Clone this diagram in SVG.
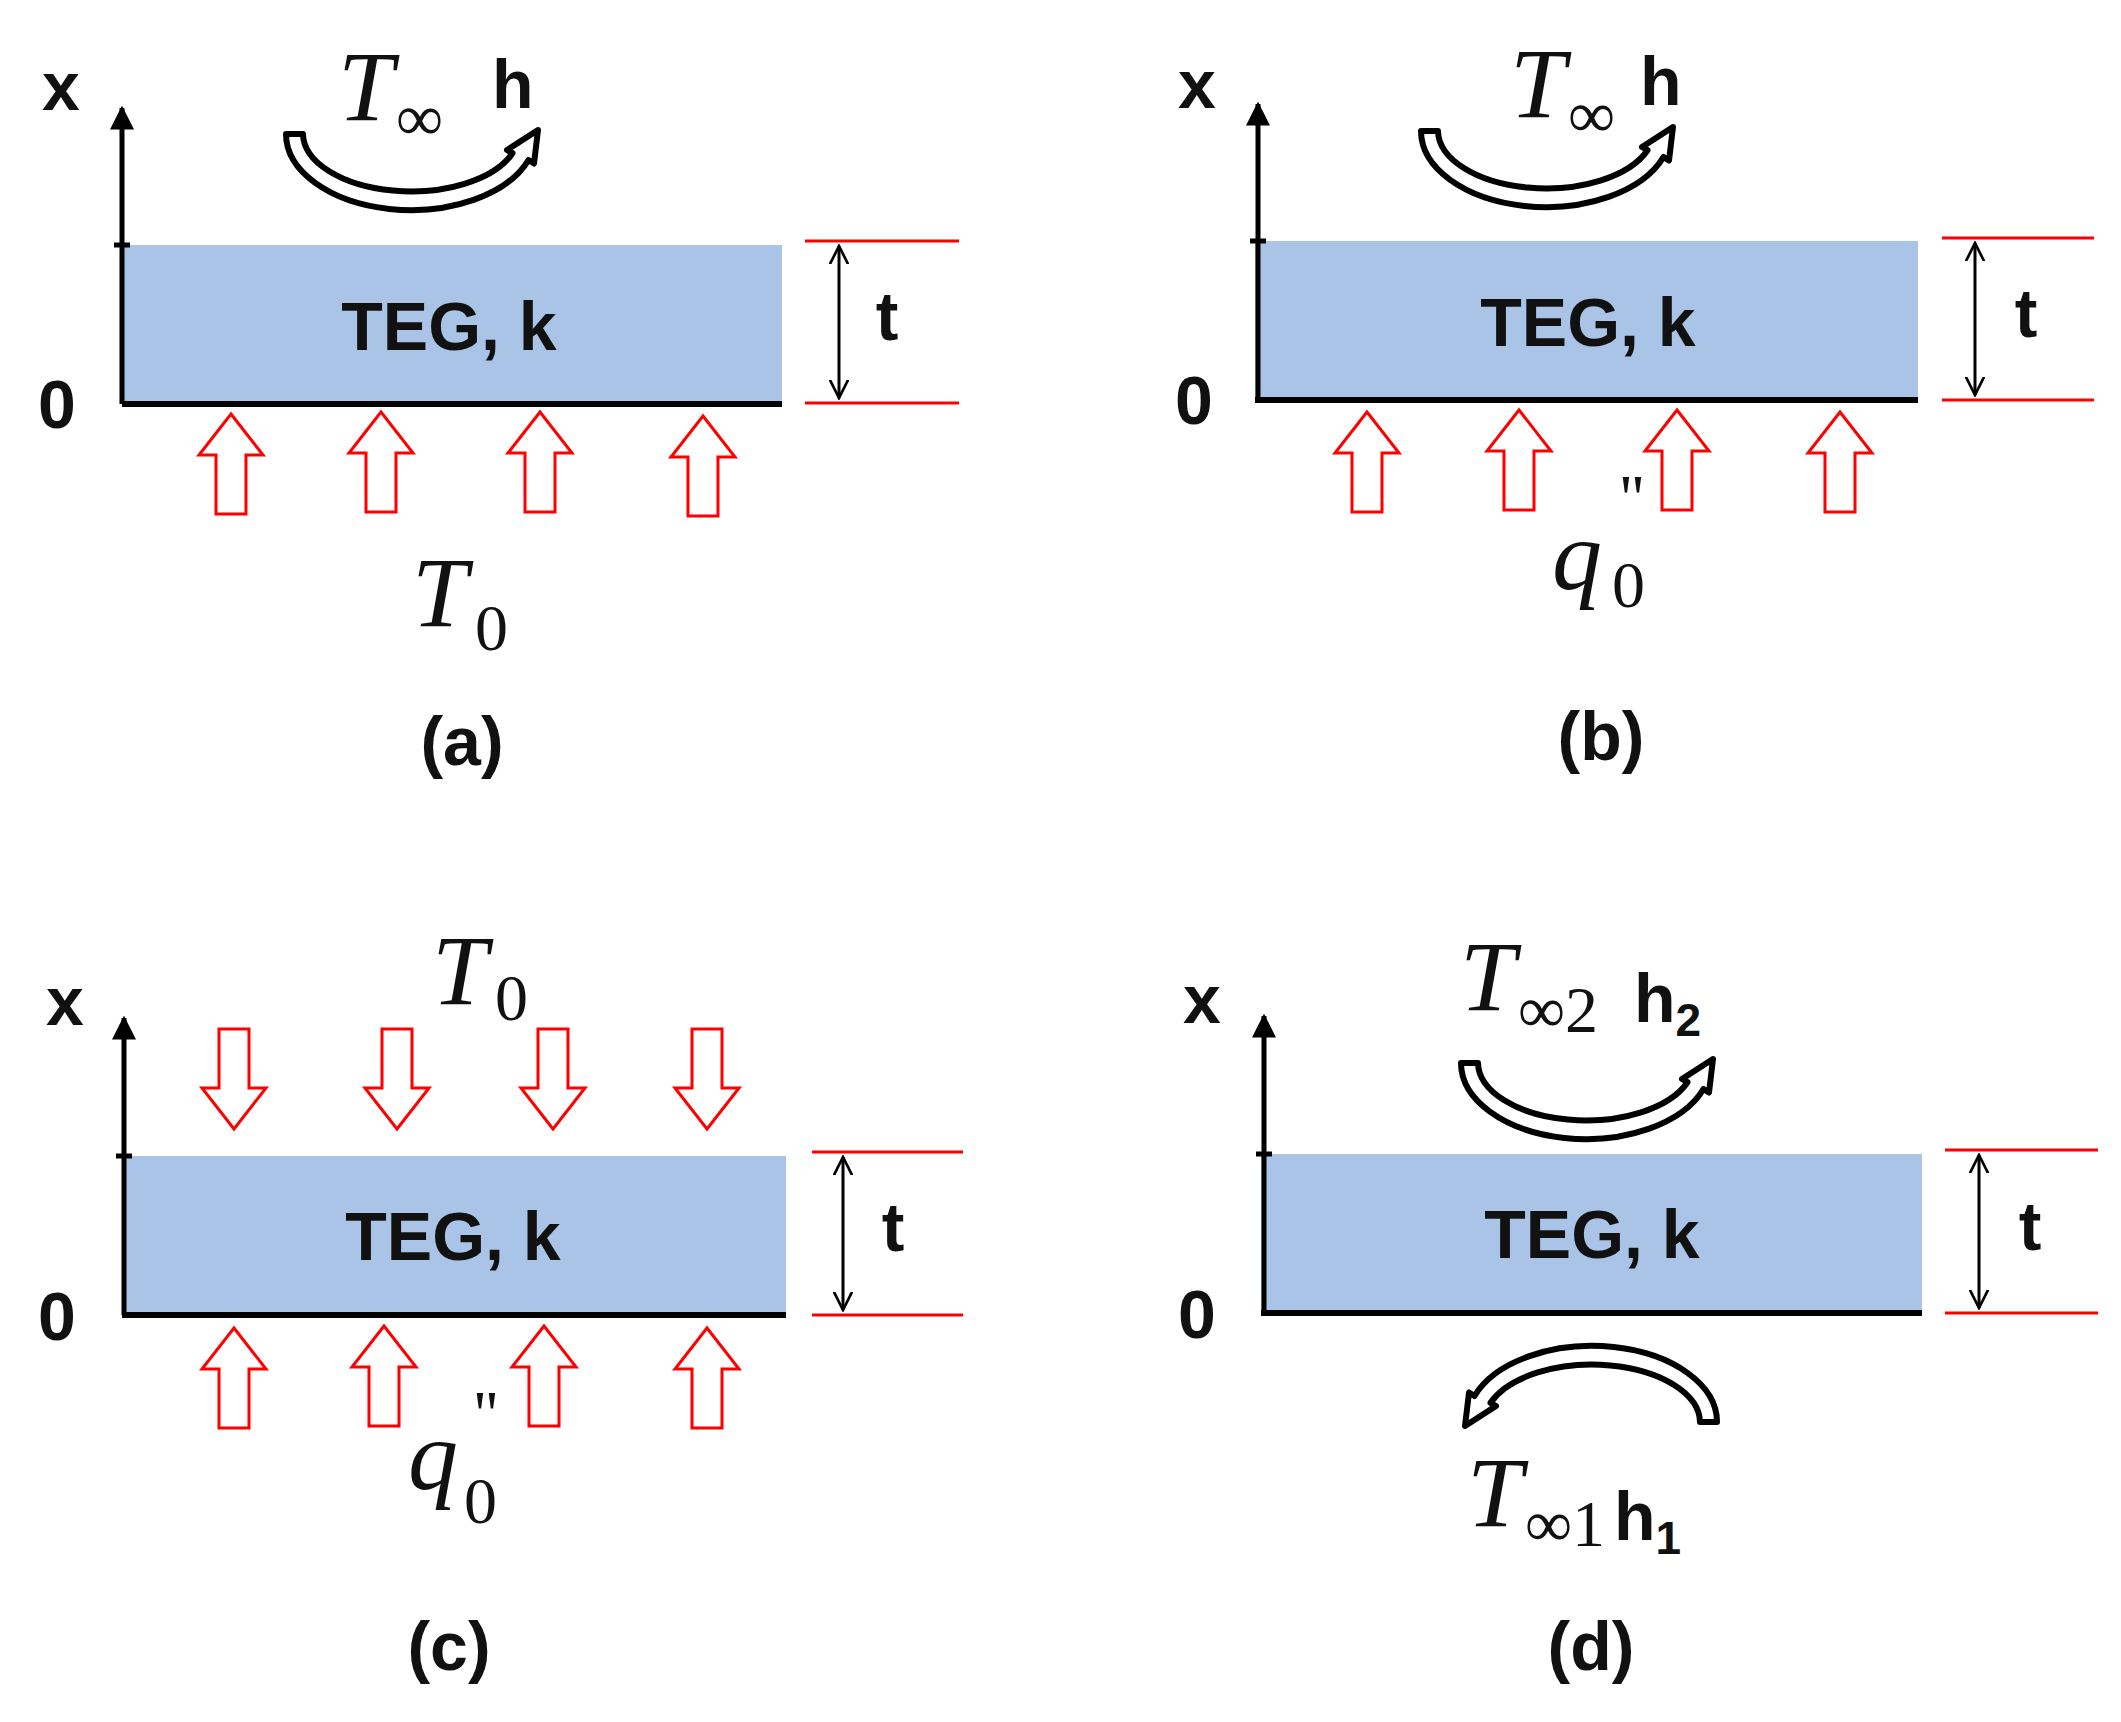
<svg xmlns="http://www.w3.org/2000/svg" xmlns:xlink="http://www.w3.org/1999/xlink" width="2121" height="1722" viewBox="0 0 2121 1722">
<style>
.b{font-family:"Liberation Sans",Arial,sans-serif;font-weight:bold;font-size:68px;fill:#111}
.m{font-family:"Liberation Serif","Times New Roman",serif;font-style:italic;font-size:100px;fill:#111}
.s{font-family:"Liberation Serif","Times New Roman",serif;font-size:66px;fill:#111}
.slab{fill:#aac4e8}
.base{stroke:#000;stroke-width:6}
.ax{stroke:#000;stroke-width:5;fill:none}
.red{stroke:#f00;stroke-width:3}
.dim{stroke:#000;stroke-width:3;fill:none}
.harrow{fill:#fff;stroke:#f00;stroke-width:3}
.curl{fill:#fff;stroke:#000;stroke-width:6;stroke-linejoin:round}
</style>
<defs>
<marker id="ah" viewBox="0 0 10 10" refX="9" refY="5" markerWidth="24" markerHeight="24" markerUnits="userSpaceOnUse" orient="auto-start-reverse"><path d="M0,0 L10,5 L0,10 Z" fill="#000"/></marker>
<marker id="vh" viewBox="0 0 12 12" refX="11" refY="6" markerWidth="20" markerHeight="20" markerUnits="userSpaceOnUse" orient="auto-start-reverse"><path d="M0,0.5 L11,6 L0,11.5" fill="none" stroke="#000" stroke-width="1.6"/></marker>
<path id="up" class="harrow" d="M0,0 L32,41 L15,41 L15,100 L-15,100 L-15,41 L-32,41 Z"/>
<path id="cu" class="curl" d="M-125,0 A125,76 0 0 0 117.5,26 L123,29.5 L127,-4 L96,16 L101.5,19.2 A108,58 0 0 1 -108,0 Z"/>
</defs>

<g id="panel-a">
<rect class="slab" x="122" y="245" width="660" height="159"/>
<line class="base" x1="122" y1="404" x2="782" y2="404"/>
<line class="ax" x1="122" y1="404" x2="122" y2="108" marker-end="url(#ah)"/>
<line class="ax" x1="114" y1="245" x2="130" y2="245"/>
<line class="red" x1="805" y1="241" x2="959" y2="241"/>
<line class="red" x1="805" y1="403" x2="959" y2="403"/>
<line class="dim" x1="839" y1="246" x2="839" y2="398" marker-start="url(#vh)" marker-end="url(#vh)"/>
<text class="b" x="61" y="110" text-anchor="middle">x</text>
<text class="b" x="57" y="428" text-anchor="middle">0</text>
<text class="b" x="887" y="340" text-anchor="middle">t</text>
<text class="b" x="449" y="350" text-anchor="middle">TEG, k</text>
<text class="m" x="338" y="120">T</text><text class="s" x="396" y="140">∞</text>
<text class="b" x="492" y="108">h</text>
<use xlink:href="#cu" x="411" y="134"/>
<use xlink:href="#up" x="231" y="414"/><use xlink:href="#up" x="381" y="412"/><use xlink:href="#up" x="540" y="412"/><use xlink:href="#up" x="703" y="416"/>
<text class="m" x="412" y="626">T</text><text class="s" x="475" y="650">0</text>
<text class="b" x="462" y="765" text-anchor="middle">(a)</text>
</g>

<g id="panel-b">
<rect class="slab" x="1255" y="241" width="663" height="159"/>
<line class="base" x1="1255" y1="400" x2="1918" y2="400"/>
<line class="ax" x1="1258" y1="400" x2="1258" y2="104" marker-end="url(#ah)"/>
<line class="ax" x1="1250" y1="241" x2="1266" y2="241"/>
<line class="red" x1="1942" y1="238" x2="2094" y2="238"/>
<line class="red" x1="1942" y1="400" x2="2094" y2="400"/>
<line class="dim" x1="1975" y1="243" x2="1975" y2="395" marker-start="url(#vh)" marker-end="url(#vh)"/>
<text class="b" x="1197" y="108" text-anchor="middle">x</text>
<text class="b" x="1194" y="424" text-anchor="middle">0</text>
<text class="b" x="2026" y="337" text-anchor="middle">t</text>
<text class="b" x="1588" y="346" text-anchor="middle">TEG, k</text>
<text class="m" x="1510" y="117">T</text><text class="s" x="1568" y="137">∞</text>
<text class="b" x="1640" y="105">h</text>
<use xlink:href="#cu" x="1546" y="131"/>
<use xlink:href="#up" x="1367" y="412"/><use xlink:href="#up" x="1519" y="410"/><use xlink:href="#up" x="1677" y="410"/><use xlink:href="#up" x="1840" y="412"/>
<text class="m" x="1552" y="589">q</text><text class="s" x="1612" y="607">0</text><text class="s" x="1620" y="520" font-size="50">''</text>
<text class="b" x="1601" y="760" text-anchor="middle">(b)</text>
</g>

<g id="panel-c">
<rect class="slab" x="122" y="1156" width="664" height="159"/>
<line class="base" x1="122" y1="1315" x2="786" y2="1315"/>
<line class="ax" x1="124" y1="1315" x2="124" y2="1018" marker-end="url(#ah)"/>
<line class="ax" x1="116" y1="1156" x2="132" y2="1156"/>
<line class="red" x1="812" y1="1152" x2="963" y2="1152"/>
<line class="red" x1="812" y1="1315" x2="963" y2="1315"/>
<line class="dim" x1="843" y1="1157" x2="843" y2="1310" marker-start="url(#vh)" marker-end="url(#vh)"/>
<text class="b" x="65" y="1025" text-anchor="middle">x</text>
<text class="b" x="57" y="1340" text-anchor="middle">0</text>
<text class="b" x="893" y="1251" text-anchor="middle">t</text>
<text class="b" x="453" y="1260" text-anchor="middle">TEG, k</text>
<text class="m" x="432" y="1004">T</text><text class="s" x="495" y="1020">0</text>
<use xlink:href="#up" transform="translate(234,1129) scale(1,-1)"/><use xlink:href="#up" transform="translate(397,1129) scale(1,-1)"/><use xlink:href="#up" transform="translate(553,1129) scale(1,-1)"/><use xlink:href="#up" transform="translate(707,1129) scale(1,-1)"/>
<use xlink:href="#up" x="234" y="1328"/><use xlink:href="#up" x="384" y="1326"/><use xlink:href="#up" x="544" y="1326"/><use xlink:href="#up" x="707" y="1328"/>
<text class="m" x="408" y="1489">q</text><text class="s" x="464" y="1523">0</text><text class="s" x="474" y="1436" font-size="50">''</text>
<text class="b" x="449" y="1670" text-anchor="middle">(c)</text>
</g>

<g id="panel-d">
<rect class="slab" x="1261" y="1154" width="661" height="159"/>
<line class="base" x1="1261" y1="1313" x2="1922" y2="1313"/>
<line class="ax" x1="1264" y1="1313" x2="1264" y2="1016" marker-end="url(#ah)"/>
<line class="ax" x1="1256" y1="1154" x2="1272" y2="1154"/>
<line class="red" x1="1945" y1="1150" x2="2098" y2="1150"/>
<line class="red" x1="1945" y1="1313" x2="2098" y2="1313"/>
<line class="dim" x1="1979" y1="1155" x2="1979" y2="1308" marker-start="url(#vh)" marker-end="url(#vh)"/>
<text class="b" x="1202" y="1023" text-anchor="middle">x</text>
<text class="b" x="1197" y="1338" text-anchor="middle">0</text>
<text class="b" x="2030" y="1250" text-anchor="middle">t</text>
<text class="b" x="1592" y="1258" text-anchor="middle">TEG, k</text>
<text class="m" x="1460" y="1010">T</text><text class="s" x="1518" y="1032">∞2</text>
<text class="b" x="1634" y="1022">h<tspan font-size="46" dy="14">2</tspan></text>
<use xlink:href="#cu" x="1586" y="1063"/>
<use xlink:href="#cu" transform="translate(1592,1422) rotate(180)"/>
<text class="m" x="1467" y="1526">T</text><text class="s" x="1525" y="1546">∞1</text>
<text class="b" x="1614" y="1540">h<tspan font-size="46" dy="14">1</tspan></text>
<text class="b" x="1591" y="1670" text-anchor="middle">(d)</text>
</g>
<g id="connectors"/>
</svg>
